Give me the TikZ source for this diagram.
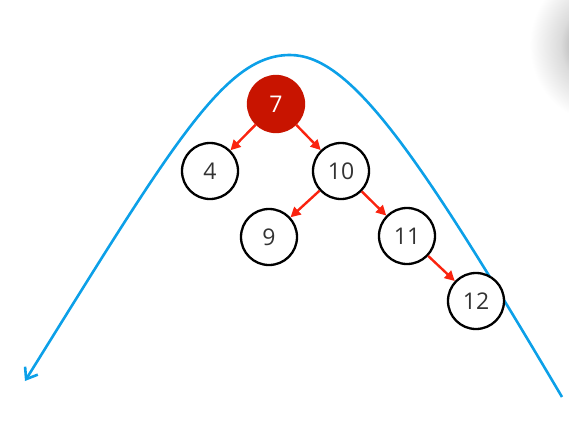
\documentclass[tikz,border=0pt]{standalone}
\usepackage{fontspec}
\setmainfont{Open Sans}
\usetikzlibrary{arrows.meta}
\definecolor{curveblue}{RGB}{12,160,232}
\definecolor{nodered}{RGB}{200,20,0}
\definecolor{arrowred}{RGB}{250,35,15}
\pgfdeclareradialshading{softglow}{\pgfpoint{0bp}{0bp}}{color(0bp)=(black!45); color(4bp)=(black!35); color(9bp)=(black!14); color(16bp)=(white); color(25bp)=(white); color(50bp)=(white)}
\begin{document}
\begin{tikzpicture}[x=1pt,y=-1pt,
  tnode/.style={circle,draw=black,line width=2.3pt,fill=white,minimum size=56pt,inner sep=0pt,font=\fontsize{23}{25}\selectfont,text=black!80},
  rootnode/.style={tnode,draw=nodered,fill=nodered,text=white},
  edge/.style={draw=arrowred,line width=2.4pt,-{Triangle[length=10pt,width=10pt]}},
  sweep/.style={draw=curveblue,line width=2.6pt}]
\useasboundingbox (0,0) rectangle (569,442);
\begin{scope}
\clip (0,0) rectangle (569,442);
\shade[shading=softglow] (600,45) ellipse (110 and 120);
\end{scope}
\draw[sweep,-{Straight Barb[length=10pt,width=15pt]}] (562,397) .. controls (416,150) and (350,55) .. (290,55) .. controls (225,55) and (175,140) .. (25,381);
\node[rootnode] (n7) at (276,104) {7};
\node[tnode] (n4) at (210,171) {4};
\node[tnode] (n10) at (341,171) {10};
\node[tnode] (n9) at (269,237) {9};
\node[tnode] (n11) at (407,236) {11};
\node[tnode] (n12) at (476,301) {12};
\draw[edge] (n7) -- (n4);
\draw[edge] (n7) -- (n10);
\draw[edge] (n10) -- (n9);
\draw[edge] (n10) -- (n11);
\draw[edge] (n11) -- (n12);
\end{tikzpicture}
\end{document}
